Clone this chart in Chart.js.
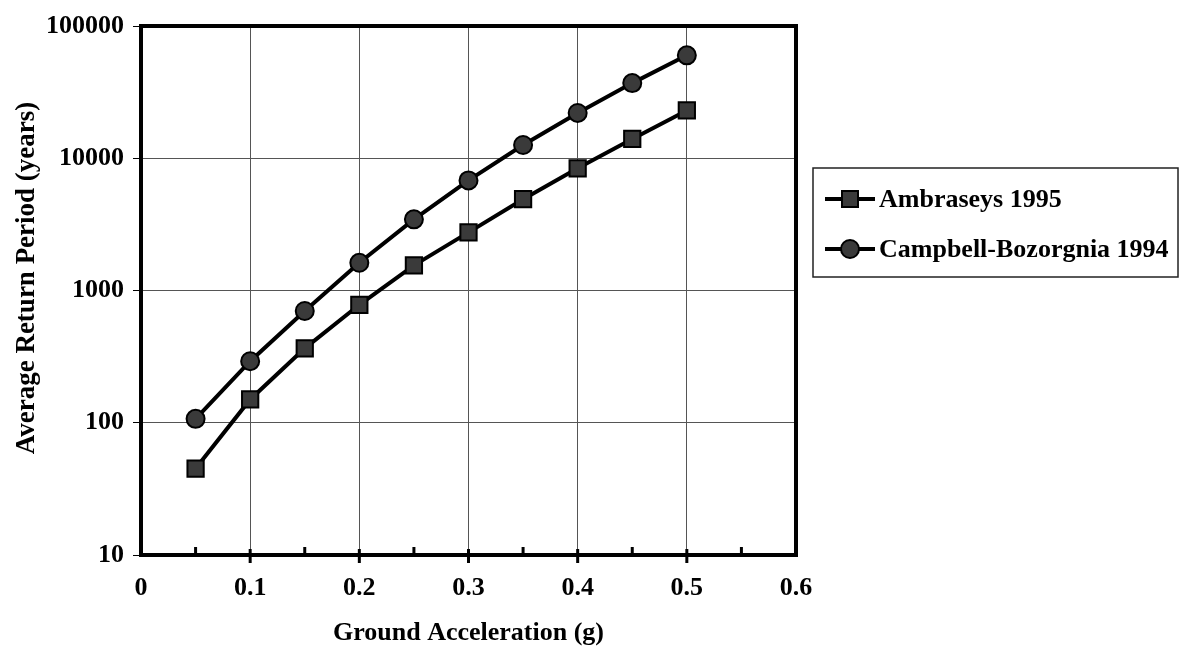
<!DOCTYPE html>
<html>
<head>
<meta charset="utf-8">
<script src="https://cdn.jsdelivr.net/npm/chart.js@4.4.1/dist/chart.umd.min.js"></script>
<style>
  html, body { margin: 0; padding: 0; background: #ffffff; }
  #wrap { width: 1181px; height: 655px; position: relative; }
</style>
</head>
<body>
<div id="wrap"><canvas id="c" width="1181" height="655"></canvas></div>
<script>
// ---- data ----
const accel = [0.05, 0.10, 0.15, 0.20, 0.25, 0.30, 0.35, 0.40, 0.45, 0.50];
const ambraseys1995 = [45, 150, 365, 780, 1550, 2750, 4900, 8400, 14000, 23000];
const campbellBozorgnia1994 = [107, 292, 700, 1620, 3450, 6800, 12600, 22000, 37000, 60000];
const xTickLabels = ['0', '0.1', '0.2', '0.3', '0.4', '0.5', '0.6'];
const yTickValues = [10, 100, 1000, 10000, 100000];
const yTickLabels = ['10', '100', '1000', '10000', '100000'];
const seriesLabels = ['Ambraseys 1995', 'Campbell-Bozorgnia 1994'];
const xTitle = 'Ground Acceleration (g)';
const yTitle = 'Average Return Period (years)';

const FONT = "'Liberation Serif', 'Times New Roman', serif";
const FS = 26;

function toPoints(ys) { return accel.map((x, i) => ({ x: x, y: ys[i] })); }

const framePlugin = {
  id: 'frame',
  afterDatasetsDraw(chart) {
    const ctx = chart.ctx;
    const a = chart.chartArea;
    const xs = chart.scales.x;
    ctx.save();
    // frame
    ctx.strokeStyle = '#000';
    ctx.lineWidth = 4;
    ctx.strokeRect(a.left, a.top, a.right - a.left, a.bottom - a.top);
    // x ticks: major cross the axis, minor point inward
    ctx.lineWidth = 3;
    const ticks = xs.ticks.map(t => t.value);
    ticks.forEach((v, i) => {
      const px = xs.getPixelForValue(v);
      if (i > 0 && i < ticks.length - 1) {
        ctx.beginPath(); ctx.moveTo(px, a.bottom - 6); ctx.lineTo(px, a.bottom + 8); ctx.stroke();
      }
      if (i < ticks.length - 1) {
        const mid = xs.getPixelForValue((v + ticks[i + 1]) / 2);
        ctx.beginPath(); ctx.moveTo(mid, a.bottom - 8); ctx.lineTo(mid, a.bottom); ctx.stroke();
      }
    });
    // y axis title
    ctx.fillStyle = '#000';
    ctx.font = "bold 27px " + FONT;
    ctx.textAlign = 'center';
    ctx.textBaseline = 'middle';
    ctx.translate(27, 278);
    ctx.rotate(-Math.PI / 2);
    ctx.fillText(yTitle, 0, 0);
    ctx.restore();
  }
};

const legendPlugin = {
  id: 'boxLegend',
  afterDraw(chart) {
    const ctx = chart.ctx;
    const L = 813, T = 168, R = 1178, B = 277;
    ctx.save();
    ctx.strokeStyle = '#222';
    ctx.lineWidth = 1.5;
    ctx.strokeRect(L, T, R - L, B - T);
    chart.data.datasets.forEach((ds, i) => {
      const y = 199 + i * 50;
      ctx.strokeStyle = '#000';
      ctx.lineWidth = 4;
      ctx.beginPath(); ctx.moveTo(825, y); ctx.lineTo(875, y); ctx.stroke();
      ctx.fillStyle = ds.pointBackgroundColor;
      ctx.lineWidth = 2;
      ctx.beginPath();
      if (ds.pointStyle === 'rect') {
        ctx.rect(850 - 8, y - 8, 16, 16);
      } else {
        ctx.arc(850, y, 9, 0, Math.PI * 2);
      }
      ctx.fill(); ctx.stroke();
      ctx.fillStyle = '#000';
      ctx.font = "bold " + FS + "px " + FONT;
      ctx.textBaseline = 'middle';
      ctx.textAlign = 'left';
      ctx.fillText(ds.label, 879, y + 1);
    });
    ctx.restore();
  }
};

new Chart(document.getElementById('c'), {
  type: 'line',
  data: {
    datasets: [
      {
        label: seriesLabels[0],
        data: toPoints(ambraseys1995),
        borderColor: '#000',
        borderWidth: 4,
        pointStyle: 'rect',
        pointRadius: 11.5,
        pointBackgroundColor: '#3a3a3a',
        pointBorderColor: '#000',
        pointBorderWidth: 2,
        tension: 0,
        fill: false
      },
      {
        label: seriesLabels[1],
        data: toPoints(campbellBozorgnia1994),
        borderColor: '#000',
        borderWidth: 4,
        pointStyle: 'circle',
        pointRadius: 9,
        pointBackgroundColor: '#3a3a3a',
        pointBorderColor: '#000',
        pointBorderWidth: 2,
        tension: 0,
        fill: false
      }
    ]
  },
  options: {
    responsive: false,
    animation: false,
    devicePixelRatio: 1,
    layout: { padding: { left: 0, right: 385, top: 26, bottom: 0 } },
    plugins: {
      legend: { display: false },
      tooltip: { enabled: false }
    },
    scales: {
      x: {
        type: 'linear',
        min: 0,
        max: 0.6,
        ticks: {
          stepSize: 0.1,
          padding: 18,
          color: '#000',
          font: { family: FONT, size: FS, weight: 'bold' },
          callback: (v, i) => xTickLabels[i]
        },
        grid: {
          color: ctx => (ctx.index === 0 || ctx.index === 6) ? 'transparent' : '#555',
          lineWidth: 1,
          drawTicks: false
        },
        border: { display: false },
        title: {
          display: true,
          text: xTitle,
          color: '#000',
          font: { family: FONT, size: FS, weight: 'bold' },
          padding: { top: 0, bottom: 6 }
        },
        afterFit: s => { s.height = 100; }
      },
      y: {
        type: 'logarithmic',
        min: 10,
        max: 100000,
        afterBuildTicks: s => { s.ticks = yTickValues.map(v => ({ value: v })); },
        ticks: {
          padding: 9,
          color: '#000',
          font: { family: FONT, size: FS, weight: 'bold' },
          callback: (v) => yTickLabels[yTickValues.indexOf(v)]
        },
        grid: {
          color: ctx => (ctx.index === 0 || ctx.index === 4) ? 'transparent' : '#555',
          lineWidth: 1,
          tickColor: '#000',
          tickLength: 8,
          tickWidth: 1
        },
        border: { display: false },
        title: { display: false },
        afterFit: s => { s.width = 141; }
      }
    }
  },
  plugins: [framePlugin, legendPlugin]
});
</script>
</body>
</html>
